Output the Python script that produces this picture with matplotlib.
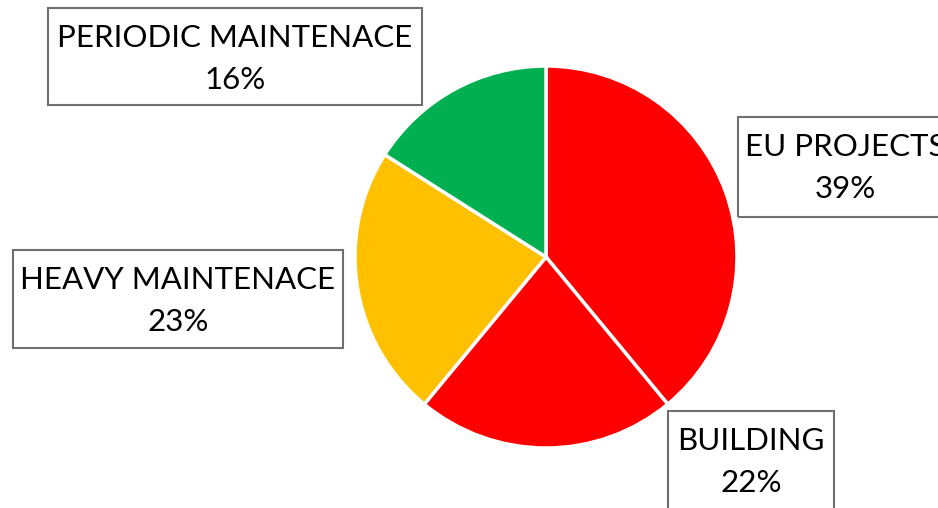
import matplotlib.pyplot as plt
from matplotlib.patches import Rectangle

# data
labels = ["EU PROJECTS", "BUILDING", "HEAVY MAINTENACE", "PERIODIC MAINTENACE"]
shares = [39, 22, 23, 16]
colors = ["#FF0000", "#FF0000", "#FFC000", "#00B050"]

W, H = 938, 508
fig = plt.figure(figsize=(W / 100, H / 100), dpi=100)
plt.rcParams['font.family'] = ['Lato', 'DejaVu Sans']

# pie: center (546, 257) px, radius 191 px
cx, cy, r = 546, 257, 191
ax = fig.add_axes([(cx - r) / W, (H - cy - r) / H, 2 * r / W, 2 * r / H])
ax.pie(shares, colors=colors, startangle=90, counterclock=False,
       wedgeprops=dict(edgecolor='white', linewidth=2.5))
ax.set_xlim(-1.0, 1.0)
ax.set_ylim(-1.0, 1.0)
ax.set_aspect('equal')
ax.axis('off')

# label boxes in pixel coords: (left, top, right, bottom, text center x)
# EU PROJECTS box runs past the right edge, as in the original
boxes = {
    "PERIODIC MAINTENACE": (48, 8, 422, 105, 235),
    "EU PROJECTS": (738, 117, 960, 217, 845),
    "HEAVY MAINTENACE": (13, 250, 343, 348, 178),
    "BUILDING": (668, 411, 834, 530, 751),
}

for lab, val in zip(labels, shares):
    l, t, rr, b, tx = boxes[lab]
    fig.patches.append(Rectangle((l / W, 1 - b / H), (rr - l) / W, (b - t) / H,
                                 transform=fig.transFigure, fill=False,
                                 edgecolor='#6f6f6f', linewidth=1.5))
    ty = t + 51
    fig.text(tx / W, 1 - ty / H, f"{lab}\n{val}%", ha='center', va='center',
             fontsize=22.5, linespacing=1.65, color='black')

fig.savefig("out.png", dpi=100)
